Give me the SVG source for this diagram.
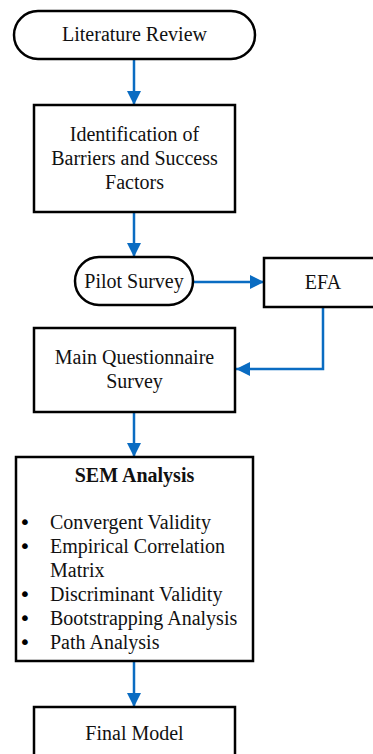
<svg xmlns="http://www.w3.org/2000/svg" width="373" height="754" viewBox="0 0 373 754">
<style>
.box{fill:#fff;stroke:#000;stroke-width:2.5}
.t{font-family:"Liberation Serif","Times New Roman",serif;font-size:20px;fill:#111}
.c{text-anchor:middle}
.b{font-weight:bold}
.bul{font-family:"DejaVu Sans","Liberation Sans",sans-serif;font-size:20px;fill:#000;text-anchor:middle}
.con{fill:none;stroke:#0a6cc2;stroke-width:2.5;marker-end:url(#ah)}
</style>
<defs>
<marker id="ah" markerUnits="userSpaceOnUse" markerWidth="14" markerHeight="14" viewBox="0 0 14 14" refX="14" refY="7" orient="auto">
<path d="M0,0 L14,7 L0,14 z" fill="#0a6cc2"/>
</marker>
</defs>
<rect width="373" height="754" fill="#fff"/>
<g id="connectors">
<line class="con" x1="134" y1="59" x2="134" y2="105"/>
<line class="con" x1="134" y1="212" x2="134" y2="257"/>
<line class="con" x1="193" y1="282" x2="264" y2="282"/>
<polyline class="con" points="323,307 323,369 236,369"/>
<line class="con" x1="134" y1="412" x2="134" y2="457"/>
<line class="con" x1="134" y1="661" x2="134" y2="707"/>
</g>
<g id="literature-review">
<rect class="box" x="14" y="11" width="241" height="48" rx="24" ry="24"/>
<text class="t c" x="134.5" y="41">Literature Review</text>
</g>
<g id="identification">
<rect class="box" x="34" y="105" width="201" height="107"/>
<text class="t c" x="134.5" y="141">Identification of</text>
<text class="t c" x="134.5" y="165">Barriers and Success</text>
<text class="t c" x="134.5" y="189">Factors</text>
</g>
<g id="pilot-survey">
<rect class="box" x="75" y="257" width="118" height="48" rx="24" ry="24"/>
<text class="t c" x="134" y="288">Pilot Survey</text>
</g>
<g id="efa">
<rect class="box" x="264" y="258" width="130" height="49"/>
<text class="t c" x="323" y="289">EFA</text>
</g>
<g id="main-questionnaire">
<rect class="box" x="34" y="328" width="201" height="84"/>
<text class="t c" x="134.5" y="364">Main Questionnaire</text>
<text class="t c" x="134.5" y="388">Survey</text>
</g>
<g id="sem-analysis">
<rect class="box" x="16" y="457" width="237" height="204"/>
<text class="t c b" x="134.5" y="482">SEM Analysis</text>
<g class="bul">
<text x="25" y="529">•</text>
<text x="25" y="553">•</text>
<text x="25" y="601">•</text>
<text x="25" y="625">•</text>
<text x="25" y="649">•</text>
</g>
<g class="t">
<text x="50" y="529">Convergent Validity</text>
<text x="50" y="553">Empirical Correlation</text>
<text x="50" y="577">Matrix</text>
<text x="50" y="601">Discriminant Validity</text>
<text x="50" y="625">Bootstrapping Analysis</text>
<text x="50" y="649">Path Analysis</text>
</g>
</g>
<g id="final-model">
<rect class="box" x="34" y="707" width="201" height="60"/>
<text class="t c" x="134.5" y="740">Final Model</text>
</g>
</svg>
